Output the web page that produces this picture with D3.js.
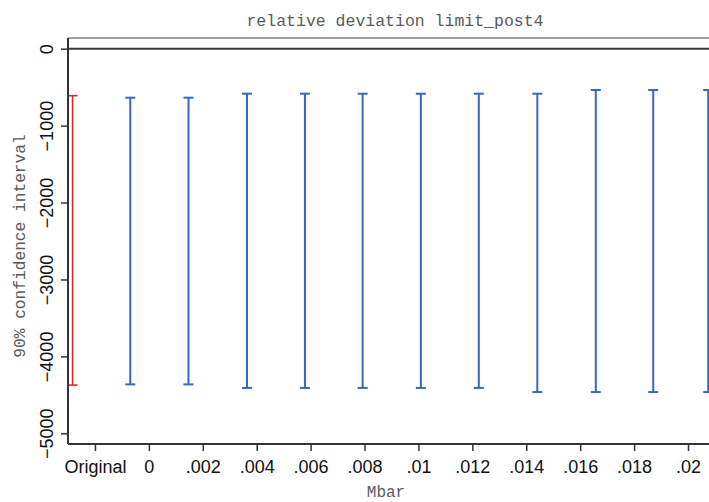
<!DOCTYPE html>
<html>
<head>
<meta charset="utf-8">
<script src="https://cdn.jsdelivr.net/npm/d3@7"></script>
<style>
  body { margin: 0; background: #fff; }
  svg { display: block; }
  .tick text { font-family: "Liberation Sans", Arial, sans-serif; font-size: 18px; fill: #111; }
  .lbl { font-family: "Liberation Mono", monospace; fill: #5a5a5a; }
</style>
</head>
<body>
<svg id="chart" width="709" height="502"></svg>
<script>
// CI plot: relative deviation limit_post4, by Mbar
const TICK_VALUES = [-0.002, 0, 0.002, 0.004, 0.006, 0.008, 0.01, 0.012, 0.014, 0.016, 0.018, 0.02];
const TICK_LABELS = ["Original", "0", ".002", ".004", ".006", ".008", ".01", ".012", ".014", ".016", ".018", ".02"];
const Y_TICKS = [0, -1000, -2000, -3000, -4000, -5000];

// original estimate (red)
const origX = [-0.00283];
const origHi = [-611];
const origLo = [-4373];

// Mbar bounds (blue) – positions as drawn in the source picture
const mbarX = [-0.00069, 0.00147, 0.00364, 0.00579, 0.00793, 0.01009, 0.01224, 0.01441, 0.01658, 0.01871, 0.02075];
const mbarHi = [-637, -637, -585, -585, -585, -585, -585, -585, -537, -537, -537];
const mbarLo = [-4364, -4364, -4410, -4410, -4410, -4410, -4410, -4464, -4464, -4464, -4464];

const svg = d3.select("#chart");
const m = { top: 38, left: 68, bottom: 444 };
const xRight = 730; // plot runs past the window edge

const x = d3.scaleLinear().domain([-0.003, (xRight - 149) / 26950]).range([m.left, xRight]);
const y = d3.scaleLinear().domain([-5139, 139]).range([m.bottom, m.top]);

// top frame + zero line
svg.append("line")
  .attr("x1", m.left).attr("x2", xRight)
  .attr("y1", m.top).attr("y2", m.top)
  .attr("stroke", "#808080").attr("stroke-width", 1.5);
svg.append("line")
  .attr("x1", m.left).attr("x2", xRight)
  .attr("y1", y(0)).attr("y2", y(0))
  .attr("stroke", "#3a3a3a").attr("stroke-width", 2);

const bars = [
  ...origX.map((v, i) => ({ x: v, hi: origHi[i], lo: origLo[i], c: "#d42d2d", w: 1.6 })),
  ...mbarX.map((v, i) => ({ x: v, hi: mbarHi[i], lo: mbarLo[i], c: "#3768bd", w: 2 })),
];

const capW = 5;
const bg = svg.append("g");
bars.forEach((d) => {
  const px = x(d.x);
  bg.append("line").attr("x1", px).attr("x2", px)
    .attr("y1", y(d.hi)).attr("y2", y(d.lo))
    .attr("stroke", d.c).attr("stroke-width", d.w);
  [d.hi, d.lo].forEach((v) => {
    bg.append("line").attr("x1", px - capW).attr("x2", px + capW)
      .attr("y1", y(v)).attr("y2", y(v))
      .attr("stroke", d.c).attr("stroke-width", d.w);
  });
});

// axes
const gx = svg.append("g").attr("transform", `translate(0,${m.bottom})`)
  .call(d3.axisBottom(x).tickValues(TICK_VALUES).tickSize(7).tickSizeOuter(0).tickPadding(9)
    .tickFormat((d, i) => TICK_LABELS[i]));
const gy = svg.append("g").attr("transform", `translate(${m.left},0)`)
  .call(d3.axisLeft(y).tickValues(Y_TICKS).tickSize(7).tickSizeOuter(0).tickFormat(d3.format("d")));

[gx, gy].forEach((g) => {
  g.select(".domain").attr("stroke", "#333").attr("stroke-width", 2);
  g.selectAll(".tick line").attr("stroke", "#333").attr("stroke-width", 1.5);
});
gx.select(".domain").attr("d", `M${m.left},0H${xRight}`);
gy.select(".domain").attr("d", `M0,${m.top}V${m.bottom}`);

gy.selectAll(".tick text")
  .attr("transform", "rotate(-90)")
  .attr("x", 0).attr("y", -14.8).attr("dy", 0)
  .attr("text-anchor", "middle");

// titles
svg.append("text").attr("class", "lbl")
  .attr("x", 395).attr("y", 26).attr("text-anchor", "middle")
  .style("font-size", "16.5px")
  .text("relative deviation limit_post4");
svg.append("text").attr("class", "lbl")
  .attr("transform", "translate(25,246) rotate(-90)")
  .attr("text-anchor", "middle")
  .style("font-size", "16.2px")
  .text("90% confidence interval");
svg.append("text").attr("class", "lbl")
  .attr("x", 386).attr("y", 497).attr("text-anchor", "middle")
  .style("font-size", "16px")
  .text("Mbar");
</script>
</body>
</html>
